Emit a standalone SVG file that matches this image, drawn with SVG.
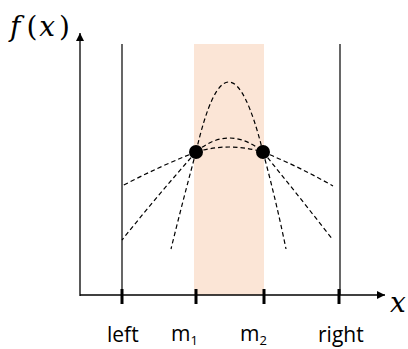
<svg xmlns="http://www.w3.org/2000/svg" width="408" height="349" viewBox="0 0 408 349">
<style>
.ax{stroke:#000;stroke-width:1.3;fill:none}
.tk{stroke:#000;stroke-width:3}
.vl{stroke:#000;stroke-width:1.2}
.d{stroke:#000;stroke-width:1.2;fill:none;stroke-dasharray:4.5 3}
.lb{font-family:"Open Sans","Liberation Sans",sans-serif;font-size:21px;fill:#000}
.sb{font-size:13px}
.mt{font-family:"DejaVu Serif","Liberation Serif",serif;fill:#000;font-size:28px}
.it{font-style:italic}
</style>
<defs>
<marker id="ah" viewBox="0 0 10 10" refX="10" refY="5" markerWidth="8" markerHeight="8" markerUnits="userSpaceOnUse" orient="auto">
<path d="M0,0 L10,5 L0,10 z" fill="#000"/>
</marker>
</defs>
<rect id="band" x="194" y="44" width="70" height="251" fill="#FBE5D6"/>
<g id="axes">
<line class="ax" x1="80" y1="296" x2="80" y2="33" marker-end="url(#ah)"/>
<line class="ax" x1="80" y1="295" x2="385" y2="295" marker-end="url(#ah)"/>
<line class="vl" x1="122" y1="44" x2="122" y2="295"/>
<line class="vl" x1="340" y1="44" x2="340" y2="295"/>
<line class="tk" x1="122" y1="289" x2="122" y2="304"/>
<line class="tk" x1="196" y1="289" x2="196" y2="304"/>
<line class="tk" x1="264" y1="289" x2="264" y2="304"/>
<line class="tk" x1="339" y1="289" x2="339" y2="304"/>
</g>
<g id="connectors">
<path class="d" d="M196,152 Q228,12 263,152"/>
<path class="d" d="M196,152 Q229,124 263,152"/>
<path class="d" d="M196,152 Q229,142 263,152"/>
<path class="d" d="M196,152 Q160,166 122,186"/>
<path class="d" d="M196,152 Q158,195 122,240"/>
<path class="d" d="M196,152 Q183,200 171,249"/>
<path class="d" d="M263,152 Q298,166 333,186"/>
<path class="d" d="M263,152 Q298,195 333,240"/>
<path class="d" d="M263,152 Q276,200 286,249"/>
</g>
<g id="m1pt"><circle cx="196" cy="152" r="7" fill="#000"/></g>
<g id="m2pt"><circle cx="263" cy="152" r="7" fill="#000"/></g>
<g id="labels">
<text class="mt" x="10" y="36"><tspan class="it">f</tspan><tspan dx="6">(</tspan><tspan class="it" dx="2">x</tspan><tspan dx="4">)</tspan></text>
<text class="mt it" x="390" y="312">x</text>
<text class="lb" x="107" y="342">left</text>
<text class="lb" x="171" y="341">m<tspan class="sb" dy="4">1</tspan></text>
<text class="lb" x="240" y="341">m<tspan class="sb" dy="4">2</tspan></text>
<text class="lb" x="318" y="342">right</text>
</g>
</svg>
